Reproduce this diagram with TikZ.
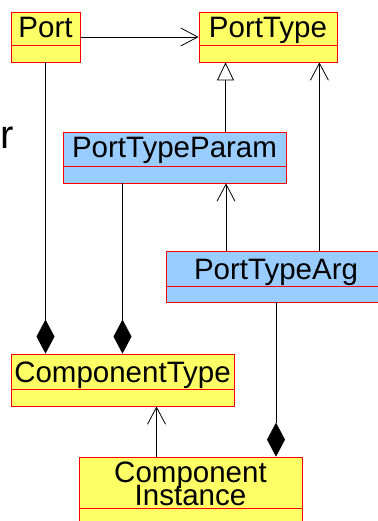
\documentclass[tikz,border=0pt]{standalone}
\usepackage{fontspec}
\setmainfont{Liberation Sans}
\usetikzlibrary{arrows.meta,calc}
\definecolor{clsyellow}{HTML}{FFFF66}
\definecolor{clsblue}{HTML}{99CCFF}
\tikzset{
  cls/.style={draw=red, line width=0.8pt, inner sep=0pt, rectangle},
  ylw/.style={cls, fill=clsyellow},
  blu/.style={cls, fill=clsblue},
  divider/.style={draw=red, line width=0.8pt},
  ctext/.style={anchor=base, inner sep=0pt, font=\fontsize{29.5}{23}\selectfont},
  conn/.style={draw=black, line width=0.8pt},
  nav/.style={conn, -{Straight Barb[length=17pt,width=18pt,line width=0.8pt]}},
  gen/.style={conn, -{Triangle[open,length=18pt,width=17pt,fill=white]}},
  comp/.style={conn, -{Diamond[length=34pt,width=18pt]}},
}
\begin{document}
\begin{tikzpicture}[x=1pt,y=-1pt]
\useasboundingbox (0,0) rectangle (377,521);
% classes
\node[ylw, minimum width=69pt, minimum height=50pt] (port) at (45.5,37) {};
\draw[divider] ([yshift=17pt]port.south west) -- ([yshift=17pt]port.south east);
\node[ctext] (porttxt) at (45.5,38) {Port};

\node[ylw, minimum width=138pt, minimum height=50pt] (porttype) at (268,37) {};
\draw[divider] ([yshift=17pt]porttype.south west) -- ([yshift=17pt]porttype.south east);
\node[ctext] (porttypetxt) at (268,38) {PortType};

\node[blu, minimum width=223pt, minimum height=51pt] (ptp) at (174.5,157.5) {};
\draw[divider] ([yshift=17pt]ptp.south west) -- ([yshift=17pt]ptp.south east);
\node[ctext] (ptptxt) at (174.5,158) {PortTypeParam};

\node[blu, minimum width=220pt, minimum height=51pt] (pta) at (276,276.5) {};
\draw[divider] ([yshift=16pt]pta.south west) -- ([yshift=16pt]pta.south east);
\node[ctext] (ptatxt) at (276,279) {PortTypeArg};

\node[ylw, minimum width=223pt, minimum height=52pt] (ct) at (122.5,380) {};
\draw[divider] ([yshift=17pt]ct.south west) -- ([yshift=17pt]ct.south east);
\node[ctext] (cttxt) at (122.5,382) {ComponentType};

\node[ylw, minimum width=223pt, minimum height=70pt] (ci) at (190.5,492) {};
\draw[divider] ([yshift=19pt]ci.south west) -- ([yshift=19pt]ci.south east);
\node[ctext] (citxt1) at (190.5,482) {Component};
\node[ctext] (citxt2) at (190.5,505) {Instance};

% stray letter at left edge
\node[anchor=base west, inner sep=0pt, font=\fontsize{40}{40}\selectfont] (rfrag) at (0,149) {r};

% connectors
\draw[nav] (port.east) -- (porttype.west);
\coordinate (midx) at ($(ptp.north east)!0.5!(pta.north west)$);
\draw[gen] ([xshift=-0.5pt]midx |- ptp.north) -- ([xshift=-0.5pt]midx |- porttype.south);
\draw[nav] (midx |- pta.north) -- (midx |- ptp.south);
\draw[nav] ([xshift=-18pt]porttype.south east |- pta.north) -- ([xshift=-18pt]porttype.south east);
\draw[comp] (port.south) -- (port.south |- ct.north);
\draw[comp] (ct.north |- ptp.south) -- (ct.north);
\draw[comp] (pta.south) -- (pta.south |- ci.north);
\coordinate (cix) at ($(ct.south)!0.5!(ci.north)$);
\draw[nav] (cix |- ci.north) -- (cix |- ct.south);
\end{tikzpicture}
\end{document}
